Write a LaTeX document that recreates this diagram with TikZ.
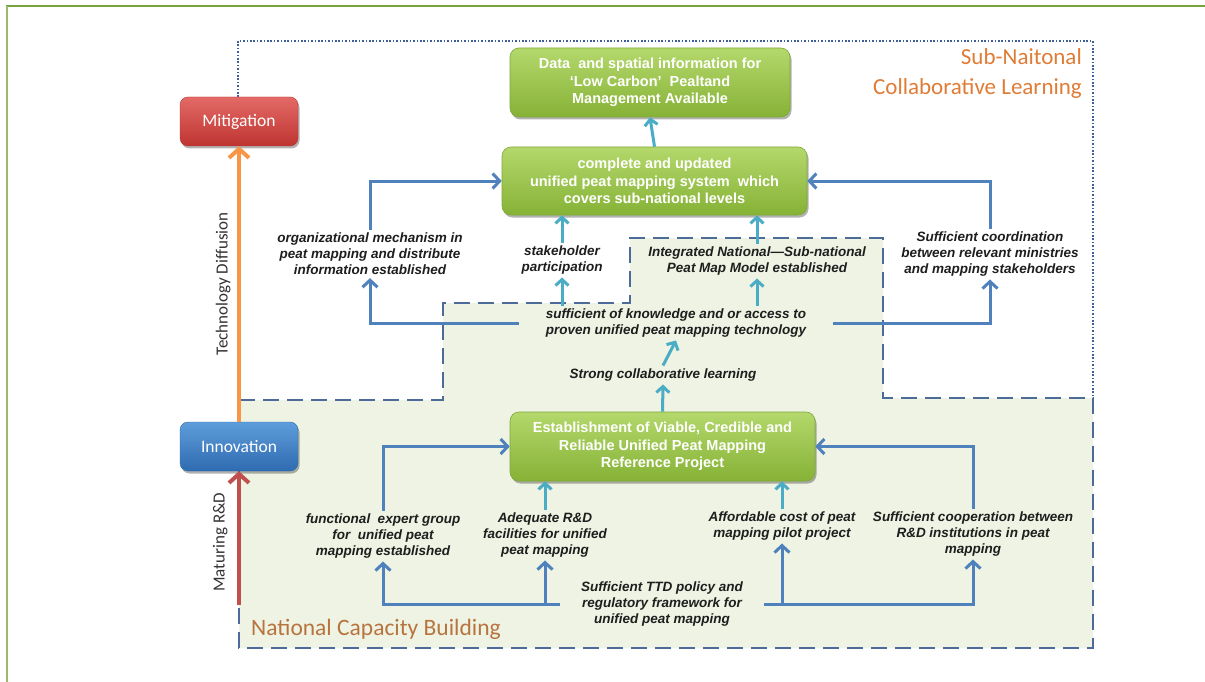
\documentclass[tikz,border=0pt]{standalone}
\usepackage{fontspec}
\setmainfont{Liberation Sans}
\newfontfamily\calibri{Carlito}
\usetikzlibrary{arrows.meta,shadows}

\definecolor{framegreen}{HTML}{77A33C}
\definecolor{framegreenB}{HTML}{9CBB6A}
\definecolor{boxgreenA}{HTML}{B4D86C}
\definecolor{boxgreenB}{HTML}{86B236}
\definecolor{boxgreenC}{HTML}{7FA83A}
\definecolor{nationalfill}{HTML}{EEF3E3}
\definecolor{dashblue}{HTML}{4C6B98}
\definecolor{dotblue}{HTML}{3E5F9A}
\definecolor{arrblue}{HTML}{4F81BD}
\definecolor{arrcyan}{HTML}{4BACC6}
\definecolor{arrorange}{HTML}{F79646}
\definecolor{arrred}{HTML}{C0504D}
\definecolor{redA}{HTML}{E36A66}
\definecolor{redB}{HTML}{BE3431}
\definecolor{blueA}{HTML}{5E9DDB}
\definecolor{blueB}{HTML}{2F6BB0}
\definecolor{subnat}{HTML}{E07C36}
\definecolor{national}{HTML}{B8743E}
\definecolor{labeltext}{HTML}{1E1E1E}

\begin{document}
\begin{tikzpicture}[x=1pt,y=-1pt]
  \tikzstyle{greenbox}=[rounded corners=9pt, top color=boxgreenA, bottom color=boxgreenB,
    draw=boxgreenC, line width=0.6pt, text=white, align=center,
    font=\bfseries\fontsize{14.5}{17.5}\selectfont,
    drop shadow={shadow xshift=1.5pt, shadow yshift=-2.5pt, opacity=.3, fill=black}]
  \tikzstyle{sidebox}=[rounded corners=8pt, minimum width=118pt, minimum height=49pt,
    text=white, font=\calibri\fontsize{17.5}{20}\selectfont,
    drop shadow={shadow xshift=1.5pt, shadow yshift=-2.5pt, opacity=.3, fill=black}]
  \tikzstyle{lbl}=[font=\bfseries\itshape\fontsize{13.5}{16}\selectfont, text=labeltext,
    align=center, inner sep=3pt]
  \tikzstyle{bluearr}=[draw=arrblue, line width=3pt, -{Straight Barb[length=7pt,width=15pt]}]
  \tikzstyle{cyanarr}=[draw=arrcyan, line width=3pt, -{Straight Barb[length=6pt,width=13pt]}]
  \tikzstyle{sidearr}=[line width=4pt, -{Straight Barb[length=9pt,width=20pt]}]

  \fill[white] (0,0) rectangle (1205,682);
  \useasboundingbox (0,0) rectangle (1205,682);

  % page frame
  \draw[framegreen, line width=2pt] (6,6) -- (1205,6);
  \draw[framegreenB, line width=2.5pt] (7,6) -- (7,682);

  % national capacity area
  \draw[fill=nationalfill, draw=dashblue, line width=2.5pt, dash pattern=on 16pt off 8pt]
    (239,400) -- (443,400) -- (443,303) -- (630,303) -- (630,238) -- (883,238)
    -- (883,398) -- (1093,398) -- (1093,648) -- (239,648) -- cycle;

  % sub-national frame
  \draw[dotblue, line width=2pt, dash pattern=on 1.6pt off 1.8pt]
    (238,97) -- (238,41) -- (1093,41) -- (1093,398);

  \node[align=right, anchor=north east, text=subnat, inner sep=0pt,
    font=\calibri\fontsize{23}{30}\selectfont] (subtitle) at (1082,48)
    {Sub-Naitonal\\Collaborative Learning};
  \node[anchor=west, text=national, inner sep=0pt,
    font=\calibri\fontsize{23.5}{28}\selectfont] (nattitle) at (251,629)
    {National Capacity Building};

  % boxes
  \node[sidebox, top color=redA, bottom color=redB, draw=redB] (mitig) at (239,121.5) {Mitigation};
  \node[sidebox, top color=blueA, bottom color=blueB, draw=blueB] (innov) at (239,446.5) {Innovation};

  \node[greenbox, minimum width=280pt, minimum height=69pt] (datainfo) at (650,82.5)
    {Data~ and spatial information for\\`Low Carbon'~ Pealtand\\Management Available};
  \node[greenbox, minimum width=305pt, minimum height=68pt] (system) at (654.5,181)
    {complete and updated\\unified peat mapping system~ which\\covers sub-national levels};
  \node[greenbox, minimum width=305pt, minimum height=69pt] (refproj) at (662.5,446.5)
    {Establishment of Viable, Credible and\\Reliable Unified Peat Mapping\\Reference Project};

  % labels
  \node[lbl] (orgmech) at (370,254) {organizational mechanism in\\peat mapping and distribute\\information established};
  \node[lbl] (stake) at (562,260) {stakeholder\\participation};
  \node[lbl] (integ) at (757,261) {Integrated National—Sub-national\\Peat Map Model established};
  \node[lbl] (coord) at (990,254) {Sufficient coordination\\between relevant ministries\\and mapping stakeholders};
  \node[lbl, inner xsep=27pt] (knowledge) at (676,323) {sufficient of knowledge and or access to\\proven unified peat mapping technology};
  \node[lbl] (strong) at (663,375) {Strong collaborative learning};
  \node[lbl] (functional) at (383,536) {functional~ expert group\\for~ unified peat\\mapping established};
  \node[lbl] (adequate) at (545,535) {Adequate R\&D\\facilities for unified\\peat mapping};
  \node[lbl] (afford) at (782,526) {Affordable cost of peat\\mapping pilot project};
  \node[lbl] (coop) at (973,534) {Sufficient cooperation between\\R\&D institutions in peat\\mapping};
  \node[lbl, inner xsep=21pt] (ttd) at (662,604) {Sufficient TTD policy and\\regulatory framework for\\unified peat mapping};

  % side arrows
  \coordinate (rdstart) at (239,605);
  \draw[sidearr, arrorange] (innov.north) -- (mitig.south)
    node[midway, rotate=90, anchor=south, yshift=3pt, text=black!80,
      font=\calibri\fontsize{17}{20}\selectfont] {Technology Diffusion};
  \draw[sidearr, arrred] (rdstart) -- (innov.south)
    node[midway, rotate=90, anchor=south, yshift=6pt, xshift=-4pt, text=black!80,
      font=\calibri\fontsize{17}{20}\selectfont] {Maturing R\&D};

  % upper connectors
  \draw[cyanarr] (system.north) -- (datainfo.south);
  \draw[bluearr] (orgmech.north) |- (system.west);
  \draw[bluearr] (coord.north) |- (system.east);
  \draw[cyanarr] (stake.north) -- (stake.north |- system.south);
  \draw[cyanarr] (integ.north) -- (integ.north |- system.south);
  \draw[bluearr] (knowledge.west) -| (orgmech.south);
  \draw[bluearr] (knowledge.east) -| (coord.south);
  \draw[cyanarr] (stake.south |- knowledge.north) -- (stake.south);
  \draw[cyanarr] (integ.south |- knowledge.north) -- (integ.south);
  \draw[cyanarr] (strong.north) -- (knowledge.south);
  \draw[cyanarr] (refproj.north) -- (strong.south);

  % lower connectors
  \draw[bluearr] (functional.north) |- (refproj.west);
  \draw[bluearr] (coop.north) |- (refproj.east);
  \draw[cyanarr] (adequate.north) -- (adequate.north |- refproj.south);
  \draw[cyanarr] (afford.north) -- (afford.north |- refproj.south);
  \draw[bluearr] (ttd.west) -| (functional.south);
  \draw[bluearr] (ttd.east) -| (coop.south);
  \draw[bluearr] (ttd.west -| adequate.south) -- (adequate.south);
  \draw[bluearr] (ttd.east -| afford.south) -- (afford.south);
\end{tikzpicture}
\end{document}
